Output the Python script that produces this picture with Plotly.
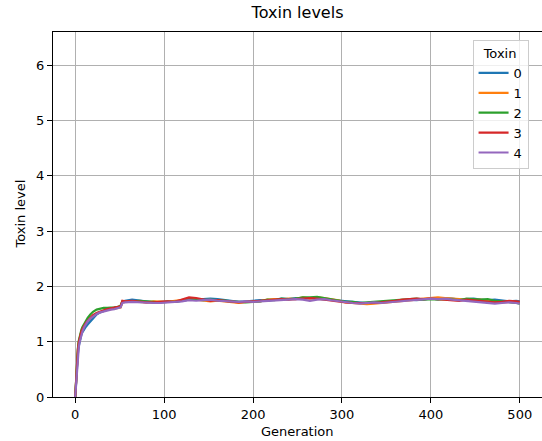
import plotly.graph_objects as go

early_gens = [0, 1, 2, 3, 4, 5, 6, 7, 8, 10, 12, 14, 17, 20, 24, 28, 32, 36, 40, 44, 48, 51, 53]
plateau_gens = list(range(56, 497, 8)) + [500]
generations = early_gens + plateau_gens

toxin_0 = [0, 0.30, 0.58, 0.78, 0.92, 1.01, 1.08, 1.13, 1.17, 1.23, 1.27, 1.31, 1.36, 1.42, 1.49, 1.53, 1.56, 1.58, 1.60, 1.61, 1.62, 1.63, 1.72,
           1.74, 1.76, 1.74, 1.72, 1.71, 1.72, 1.73, 1.72,
           1.74, 1.76, 1.76, 1.77, 1.78, 1.77, 1.75, 1.73,
           1.72, 1.73, 1.74, 1.75, 1.74, 1.76, 1.78, 1.77,
           1.79, 1.78, 1.79, 1.78, 1.77, 1.75, 1.74, 1.73,
           1.72, 1.71, 1.70, 1.71, 1.70, 1.72, 1.73, 1.74,
           1.76, 1.75, 1.77, 1.78, 1.77, 1.79, 1.78, 1.76,
           1.77, 1.78, 1.76, 1.75, 1.76, 1.74, 1.73, 1.74,
           1.73]
toxin_1 = [0, 0.36, 0.66, 0.86, 0.99, 1.08, 1.14, 1.19, 1.23, 1.29, 1.34, 1.38, 1.43, 1.47, 1.51, 1.54, 1.56, 1.58, 1.59, 1.60, 1.60, 1.62, 1.71,
           1.72, 1.73, 1.72, 1.71, 1.73, 1.73, 1.72, 1.74,
           1.75, 1.77, 1.76, 1.74, 1.73, 1.74, 1.73, 1.71,
           1.70, 1.72, 1.73, 1.73, 1.76, 1.77, 1.76, 1.78,
           1.77, 1.80, 1.78, 1.80, 1.79, 1.77, 1.75, 1.71,
           1.70, 1.69, 1.68, 1.69, 1.70, 1.71, 1.72, 1.74,
           1.75, 1.76, 1.78, 1.79, 1.80, 1.79, 1.78, 1.76,
           1.76, 1.75, 1.76, 1.75, 1.73, 1.71, 1.72, 1.71,
           1.70]
toxin_2 = [0, 0.38, 0.68, 0.88, 1.02, 1.11, 1.17, 1.22, 1.26, 1.32, 1.38, 1.43, 1.49, 1.54, 1.58, 1.60, 1.61, 1.61, 1.61, 1.62, 1.63, 1.65, 1.73,
           1.72, 1.73, 1.74, 1.73, 1.72, 1.71, 1.72, 1.72,
           1.74, 1.77, 1.76, 1.75, 1.76, 1.75, 1.74, 1.72,
           1.71, 1.71, 1.72, 1.73, 1.76, 1.75, 1.78, 1.77,
           1.78, 1.80, 1.80, 1.81, 1.79, 1.77, 1.75, 1.72,
           1.72, 1.70, 1.71, 1.72, 1.72, 1.74, 1.75, 1.76,
           1.77, 1.78, 1.76, 1.77, 1.76, 1.77, 1.76, 1.75,
           1.78, 1.77, 1.76, 1.77, 1.74, 1.73, 1.72, 1.70,
           1.69]
toxin_3 = [0, 0.34, 0.64, 0.85, 0.99, 1.08, 1.14, 1.19, 1.23, 1.29, 1.34, 1.38, 1.44, 1.48, 1.52, 1.55, 1.57, 1.59, 1.60, 1.61, 1.62, 1.64, 1.74,
           1.73, 1.74, 1.72, 1.71, 1.71, 1.72, 1.73, 1.72,
           1.76, 1.80, 1.79, 1.77, 1.74, 1.75, 1.74, 1.72,
           1.71, 1.72, 1.73, 1.74, 1.76, 1.77, 1.77, 1.76,
           1.77, 1.78, 1.79, 1.78, 1.76, 1.74, 1.72, 1.71,
           1.70, 1.70, 1.69, 1.70, 1.71, 1.72, 1.74, 1.76,
           1.77, 1.78, 1.77, 1.78, 1.77, 1.76, 1.75, 1.74,
           1.76, 1.75, 1.74, 1.73, 1.71, 1.72, 1.74, 1.73,
           1.72]
toxin_4 = [0, 0.28, 0.55, 0.76, 0.90, 1.00, 1.07, 1.13, 1.18, 1.26, 1.32, 1.37, 1.42, 1.46, 1.50, 1.53, 1.55, 1.57, 1.58, 1.59, 1.60, 1.62, 1.70,
           1.71, 1.72, 1.71, 1.70, 1.70, 1.70, 1.71, 1.71,
           1.73, 1.75, 1.74, 1.75, 1.76, 1.74, 1.73, 1.72,
           1.72, 1.73, 1.72, 1.73, 1.74, 1.75, 1.76, 1.77,
           1.77, 1.76, 1.74, 1.76, 1.77, 1.75, 1.73, 1.72,
           1.70, 1.69, 1.70, 1.71, 1.70, 1.71, 1.72, 1.73,
           1.74, 1.75, 1.77, 1.78, 1.77, 1.78, 1.76, 1.75,
           1.74, 1.73, 1.72, 1.70, 1.69, 1.70, 1.71, 1.70,
           1.69]

series = [toxin_0, toxin_1, toxin_2, toxin_3, toxin_4]
names = ["0", "1", "2", "3", "4"]
colors = ["#1f77b4", "#ff7f0e", "#2ca02c", "#d62728", "#9467bd"]

fig = go.Figure()
for name, vals, c in zip(names, series, colors):
    fig.add_trace(go.Scatter(x=generations, y=vals, mode="lines", name=name,
                             line=dict(color=c, width=2.2)))

axis_common = dict(showgrid=True, gridcolor="#b0b0b0", gridwidth=1,
                   showline=True, linecolor="black", linewidth=1, mirror=True,
                   ticks="outside", ticklen=5, tickcolor="black",
                   zeroline=False, tickfont=dict(size=13, color="black"))

fig.update_layout(
    width=542, height=441,
    margin=dict(l=53, r=0, t=32, b=44),
    paper_bgcolor="white", plot_bgcolor="white",
    font=dict(family="DejaVu Sans", size=13, color="black"),
    title=dict(text="Toxin levels", x=0.549, xanchor="center", y=1 - 12 / 441, yanchor="middle",
               font=dict(size=16)),
    xaxis=dict(range=[-25, 525], dtick=100, tick0=0, **axis_common),
    yaxis=dict(range=[0, 6.6], dtick=1, tick0=0, **axis_common),
    legend=dict(x=0.858, y=0.978, xanchor="left", yanchor="top",
                bgcolor="rgba(255,255,255,0.8)", bordercolor="#cccccc", borderwidth=1,
                title=dict(text="Toxin", side="top center", font=dict(size=13)),
                font=dict(size=13), tracegroupgap=0),
    showlegend=True,
    annotations=[
        dict(text="Generation", xref="paper", yref="paper", x=0.5, y=0,
             xanchor="center", yanchor="middle", yshift=-34, showarrow=False,
             font=dict(size=13)),
        dict(text="Toxin level", xref="paper", yref="paper", x=0, y=0.5,
             xanchor="center", yanchor="middle", xshift=-33, textangle=-90,
             showarrow=False, font=dict(size=13)),
    ],
)

fig.write_html("out.html")
